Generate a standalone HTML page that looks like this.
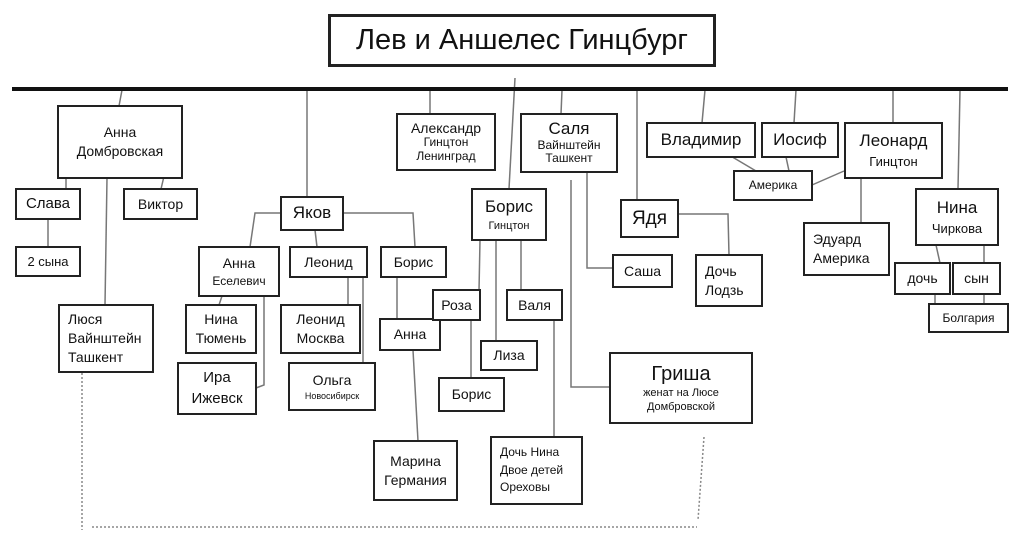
<!DOCTYPE html>
<html><head><meta charset="utf-8"><style>
body{margin:0;width:1020px;height:540px;background:#fff;position:relative;overflow:hidden;font-family:"Liberation Sans","DejaVu Sans",sans-serif;color:#111}
.b{position:absolute;border:2px solid #222;box-sizing:border-box;background:#fff;display:flex;flex-direction:column;justify-content:center;align-items:center;text-align:center;font-size:14px;line-height:1.35}
.l{align-items:flex-start;padding-left:8px;text-align:left}
.s{font-size:11px}
.m{font-size:17px}
svg{position:absolute;left:0;top:0}
</style></head><body>
<svg width="1020" height="540">
<g stroke="#777" stroke-width="1.5" fill="none">
<line x1="122" y1="90" x2="119" y2="106"/>
<line x1="66" y1="172" x2="66" y2="189"/>
<line x1="165" y1="172" x2="161" y2="189"/>
<line x1="48" y1="219" x2="48" y2="247"/>
<line x1="107" y1="178" x2="105" y2="305"/>
<line x1="307" y1="90" x2="307" y2="197"/>
<polyline points="281,213 255,213 250,247"/>
<line x1="315" y1="230" x2="317" y2="247"/>
<polyline points="343,213 413,213 415,247"/>
<line x1="222" y1="296" x2="219" y2="305"/>
<polyline points="264,296 264,385 256,388"/>
<line x1="348" y1="277" x2="348" y2="305"/>
<line x1="363" y1="277" x2="363" y2="362"/>
<line x1="397" y1="277" x2="397" y2="319"/>
<line x1="413" y1="350" x2="418" y2="441"/>
<line x1="430" y1="90" x2="430" y2="114"/>
<line x1="515" y1="78" x2="509" y2="189"/>
<line x1="562" y1="90" x2="561" y2="114"/>
<line x1="480" y1="240" x2="479" y2="291"/>
<line x1="496" y1="240" x2="496" y2="341"/>
<line x1="521" y1="240" x2="521" y2="291"/>
<line x1="471" y1="320" x2="471" y2="378"/>
<line x1="554" y1="320" x2="554" y2="437"/>
<polyline points="571,180 571,387 612,387"/>
<polyline points="587,172 587,268 613,268"/>
<line x1="637" y1="90" x2="637" y2="201"/>
<polyline points="671,214 728,214 729,255"/>
<line x1="705" y1="90" x2="702" y2="123"/>
<line x1="729" y1="155" x2="756" y2="171"/>
<line x1="796" y1="90" x2="794" y2="123"/>
<line x1="786" y1="157" x2="789" y2="171"/>
<line x1="893" y1="90" x2="893" y2="123"/>
<line x1="844" y1="171" x2="812" y2="185"/>
<line x1="861" y1="178" x2="861" y2="223"/>
<line x1="960" y1="90" x2="958" y2="189"/>
<line x1="936" y1="245" x2="940" y2="263"/>
<line x1="984" y1="245" x2="984" y2="263"/>
<line x1="935" y1="294" x2="935" y2="304"/>
<line x1="984" y1="294" x2="984" y2="304"/>
</g>
<g stroke="#888" stroke-width="1.5" fill="none" stroke-dasharray="2,2">
<line x1="82" y1="373" x2="82" y2="530"/>
<line x1="92" y1="527" x2="697" y2="527"/>
<line x1="704" y1="437" x2="698" y2="520"/>
</g>
<line x1="12" y1="89" x2="1008" y2="89" stroke="#111" stroke-width="4"/>
</svg>
<div class="b" style="left:328px;top:14px;width:388px;height:53px;border-width:3px;font-size:29px">Лев и Аншелес Гинцбург</div>
<div class="b" style="left:57px;top:105px;width:126px;height:74px">Анна<br>Домбровская</div>
<div class="b" style="left:15px;top:188px;width:66px;height:32px;font-size:15px">Слава</div>
<div class="b" style="left:123px;top:188px;width:75px;height:32px">Виктор</div>
<div class="b" style="left:15px;top:246px;width:66px;height:31px;font-size:13px">2 сына</div>
<div class="b l" style="left:58px;top:304px;width:96px;height:69px">Люся<br>Вайнштейн<br>Ташкент</div>
<div class="b m" style="left:280px;top:196px;width:64px;height:35px">Яков</div>
<div class="b" style="left:198px;top:246px;width:82px;height:51px">Анна<br><span style="font-size:12px">Еселевич</span></div>
<div class="b" style="left:289px;top:246px;width:79px;height:32px">Леонид</div>
<div class="b" style="left:380px;top:246px;width:67px;height:32px">Борис</div>
<div class="b" style="left:185px;top:304px;width:72px;height:50px">Нина<br>Тюмень</div>
<div class="b" style="left:280px;top:304px;width:81px;height:50px">Леонид<br>Москва</div>
<div class="b" style="left:177px;top:362px;width:80px;height:53px;font-size:15px">Ира<br>Ижевск</div>
<div class="b" style="left:288px;top:362px;width:88px;height:49px">Ольга<br><span style="font-size:9px">Новосибирск</span></div>
<div class="b" style="left:379px;top:318px;width:62px;height:33px">Анна</div>
<div class="b" style="left:373px;top:440px;width:85px;height:61px">Марина<br>Германия</div>
<div class="b" style="left:396px;top:113px;width:100px;height:58px;line-height:1.15">Александр<br><span style="font-size:12px">Гинцтон<br>Ленинград</span></div>
<div class="b" style="left:520px;top:113px;width:98px;height:60px;line-height:1.1"><span class="m">Саля</span><span style="font-size:12px">Вайнштейн<br>Ташкент</span></div>
<div class="b" style="left:471px;top:188px;width:76px;height:53px"><span class="m">Борис</span><span style="font-size:11px">Гинцтон</span></div>
<div class="b" style="left:432px;top:289px;width:49px;height:32px">Роза</div>
<div class="b" style="left:506px;top:289px;width:57px;height:32px">Валя</div>
<div class="b" style="left:480px;top:340px;width:58px;height:31px">Лиза</div>
<div class="b" style="left:438px;top:377px;width:67px;height:35px">Борис</div>
<div class="b l" style="left:490px;top:436px;width:93px;height:69px;font-size:12px;line-height:1.45">Дочь Нина<br>Двое детей<br>Ореховы</div>
<div class="b" style="left:609px;top:352px;width:144px;height:72px;line-height:1.25"><span style="font-size:20px">Гриша</span><span style="font-size:11px">женат на Люсе<br>Домбровской</span></div>
<div class="b" style="left:620px;top:199px;width:59px;height:39px;font-size:19px">Ядя</div>
<div class="b" style="left:612px;top:254px;width:61px;height:34px">Саша</div>
<div class="b l" style="left:695px;top:254px;width:68px;height:53px">Дочь<br>Лодзь</div>
<div class="b m" style="left:646px;top:122px;width:110px;height:36px">Владимир</div>
<div class="b m" style="left:761px;top:122px;width:78px;height:36px">Иосиф</div>
<div class="b" style="left:733px;top:170px;width:80px;height:31px;font-size:12px">Америка</div>
<div class="b" style="left:844px;top:122px;width:99px;height:57px"><span class="m">Леонард</span><span style="font-size:13px">Гинцтон</span></div>
<div class="b l" style="left:803px;top:222px;width:87px;height:54px">Эдуард<br>Америка</div>
<div class="b" style="left:915px;top:188px;width:84px;height:58px"><span class="m">Нина</span><span style="font-size:13px">Чиркова</span></div>
<div class="b" style="left:894px;top:262px;width:57px;height:33px">дочь</div>
<div class="b" style="left:952px;top:262px;width:49px;height:33px">сын</div>
<div class="b" style="left:928px;top:303px;width:81px;height:30px;font-size:12px">Болгария</div>
</body></html>
